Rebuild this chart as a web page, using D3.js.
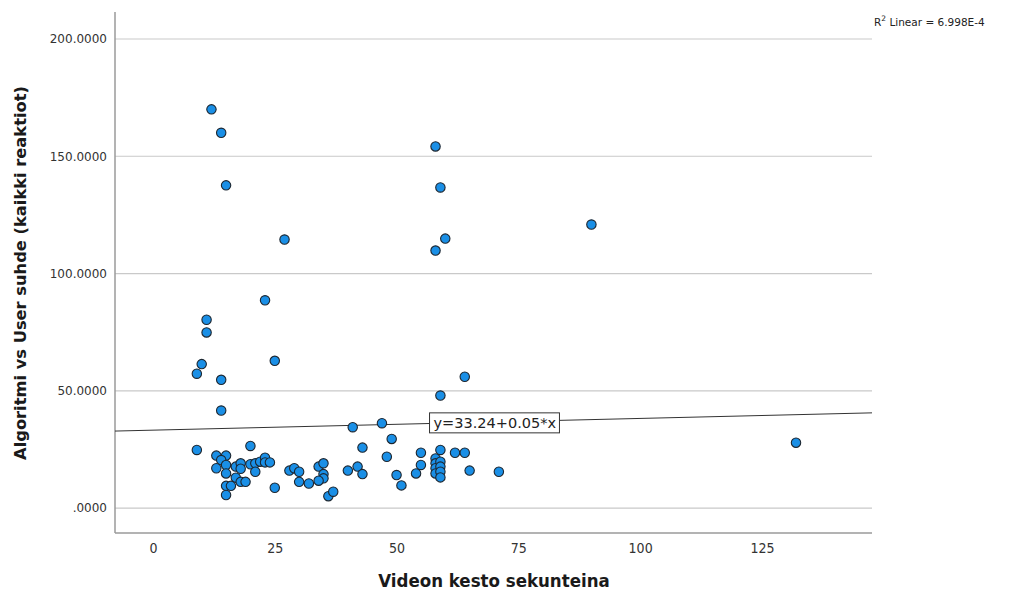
<!DOCTYPE html>
<html>
<head>
<meta charset="utf-8">
<script src="https://cdn.jsdelivr.net/npm/d3@7"></script>
<style>
  html, body { margin: 0; padding: 0; background: #ffffff; }
  svg { display: block; }
</style>
</head>
<body>
<svg id="chart" width="1014" height="592"></svg>
<script>
// Video length (seconds) and algorithm-vs-user ratio per video
const durations = [
  9, 13, 15, 14, 13, 15, 15, 20, 17, 18, 18, 20, 21, 22, 23, 23, 24, 21, 17, 18, 19, 15, 16, 15, 25, 14,
  28, 29, 30, 30, 32, 34, 35, 35, 35, 34, 36, 37, 40, 42, 43, 43, 41, 47, 49, 48, 50, 51, 54, 55, 55,
  58, 58, 58, 58, 59, 59, 59, 59, 59, 62, 64, 65, 71,
  12, 14, 15, 27, 23, 11, 11, 10, 9, 14, 25, 58, 59, 60, 58, 90, 132, 64, 59
];
const ratios = [
  24.8, 22.4, 22.4, 20.5, 17.0, 18.4, 14.8, 26.5, 17.7, 19.1, 16.8, 18.7, 19.1, 19.8, 21.5, 19.5, 19.5, 15.5, 13.0, 11.2, 11.2, 9.5, 9.5, 5.6, 8.7, 41.6,
  16.0, 17.0, 15.5, 11.2, 10.5, 17.7, 19.1, 14.5, 12.7, 11.7, 5.1, 7.0, 16.0, 17.7, 14.5, 25.8, 34.5, 36.2, 29.5, 21.9, 14.1, 9.7, 14.8, 18.4, 23.6,
  21.2, 19.1, 17.0, 14.8, 24.8, 19.8, 17.7, 15.5, 13.1, 23.6, 23.6, 16.0, 15.5,
  170.0, 160.0, 137.6, 114.5, 88.6, 80.3, 74.9, 61.4, 57.3, 54.7, 62.8, 154.2, 136.7, 114.9, 109.8, 120.9, 27.9, 56.0, 48.0
];
const xTicks = [0, 25, 50, 75, 100, 125];
const yTicks = [0, 50, 100, 150, 200];
// Fitted linear model shown in the plot
const fitIntercept = 33.24;
const fitSlope = 0.05;
const fitLabel = "y=33.24+0.05*x";
const rSquaredText = "6.998E-4";

const xTitle = "Videon kesto sekunteina";
const yTitle = "Algoritmi vs User suhde (kaikki reaktiot)";

const points = durations.map((d, i) => ({ x: d, y: ratios[i] }));

const svg = d3.select("#chart");
const plotLeft = 115, plotRight = 872, plotTop = 12, plotBottom = 533;

const x = d3.scaleLinear().domain([-7.8, 147.6]).range([plotLeft, plotRight]);
const y = d3.scaleLinear().domain([-10.6, 211.5]).range([plotBottom, plotTop]);

// Horizontal gridlines
svg.append("g")
  .selectAll("line")
  .data(yTicks)
  .join("line")
  .attr("x1", plotLeft).attr("x2", plotRight)
  .attr("y1", d => y(d)).attr("y2", d => y(d))
  .attr("stroke", "#c9c9c9")
  .attr("stroke-width", 1.2);

// Y axis
const fmtY = d => d === 0 ? ".0000" : d3.format(".4f")(d);
const gy = svg.append("g")
  .attr("transform", `translate(${plotLeft},0)`)
  .call(d3.axisLeft(y).tickValues(yTicks).tickFormat(fmtY).tickSize(0).tickPadding(8));
gy.select(".domain").remove();
gy.selectAll("text")
  .attr("font-family", "'DejaVu Sans', sans-serif")
  .attr("font-size", 12)
  .attr("fill", "#333");

// X axis
const gx = svg.append("g")
  .attr("transform", `translate(0,${plotBottom})`)
  .call(d3.axisBottom(x).tickValues(xTicks).tickFormat(d3.format("d")).tickSize(0).tickPadding(10));
gx.select(".domain").remove();
gx.selectAll("text")
  .attr("font-family", "'Liberation Sans Narrow', 'DejaVu Sans Condensed', sans-serif")
  .attr("font-size", 14)
  .attr("fill", "#333");

// Axis lines (left and bottom frame)
svg.append("line")
  .attr("x1", plotLeft).attr("x2", plotLeft).attr("y1", plotTop).attr("y2", plotBottom)
  .attr("stroke", "#9a9a9a").attr("stroke-width", 1.5);
svg.append("line")
  .attr("x1", plotLeft).attr("x2", plotRight).attr("y1", plotBottom).attr("y2", plotBottom)
  .attr("stroke", "#9a9a9a").attr("stroke-width", 1.5);

// Fit line across the full x range
const [x0, x1] = x.domain();
svg.append("line")
  .attr("x1", x(x0)).attr("y1", y(fitIntercept + fitSlope * x0))
  .attr("x2", x(x1)).attr("y2", y(fitIntercept + fitSlope * x1))
  .attr("stroke", "#333").attr("stroke-width", 1);

// Scatter points
svg.append("g")
  .selectAll("circle")
  .data(points)
  .join("circle")
  .attr("cx", d => x(d.x))
  .attr("cy", d => y(d.y))
  .attr("r", 4.7)
  .attr("fill", "#1a8fe6")
  .attr("stroke", "#1c2630")
  .attr("stroke-width", 1.1);

// Equation label box on the fit line
const labelX = 58;
const lbl = svg.append("g")
  .attr("transform", `translate(${x(labelX) - 6},${y(fitIntercept + fitSlope * labelX) - 1})`);
const lblText = lbl.append("text")
  .attr("x", 4).attr("y", 5.5)
  .attr("font-family", "'DejaVu Sans', sans-serif")
  .attr("font-size", 14.5)
  .attr("fill", "#222")
  .text(fitLabel);
const bb = lblText.node().getBBox();
lbl.insert("rect", "text")
  .attr("x", 0).attr("y", bb.y - 2)
  .attr("width", bb.width + 7).attr("height", bb.height + 4)
  .attr("fill", "#fff")
  .attr("stroke", "#333")
  .attr("stroke-width", 1);

// R squared note
const r2 = svg.append("text")
  .attr("x", 874).attr("y", 26)
  .attr("font-family", "'DejaVu Sans', sans-serif")
  .attr("font-size", 10.5)
  .attr("fill", "#222");
r2.append("tspan").text("R");
r2.append("tspan").attr("dy", -5).attr("font-size", 7.5).text("2");
r2.append("tspan").attr("dy", 5).text(" Linear = " + rSquaredText);

// Axis titles
svg.append("text")
  .attr("x", 494)
  .attr("y", 587)
  .attr("text-anchor", "middle")
  .attr("font-family", "'Liberation Sans Narrow', 'DejaVu Sans Condensed', sans-serif")
  .attr("font-weight", "bold")
  .attr("font-size", 18.5)
  .attr("fill", "#1a1a1a")
  .text(xTitle);

svg.append("text")
  .attr("transform", `translate(26,273) rotate(-90)`)
  .attr("text-anchor", "middle")
  .attr("font-family", "'DejaVu Sans', sans-serif")
  .attr("font-weight", "bold")
  .attr("font-size", 16.3)
  .attr("fill", "#1a1a1a")
  .text(yTitle);
</script>
</body>
</html>
